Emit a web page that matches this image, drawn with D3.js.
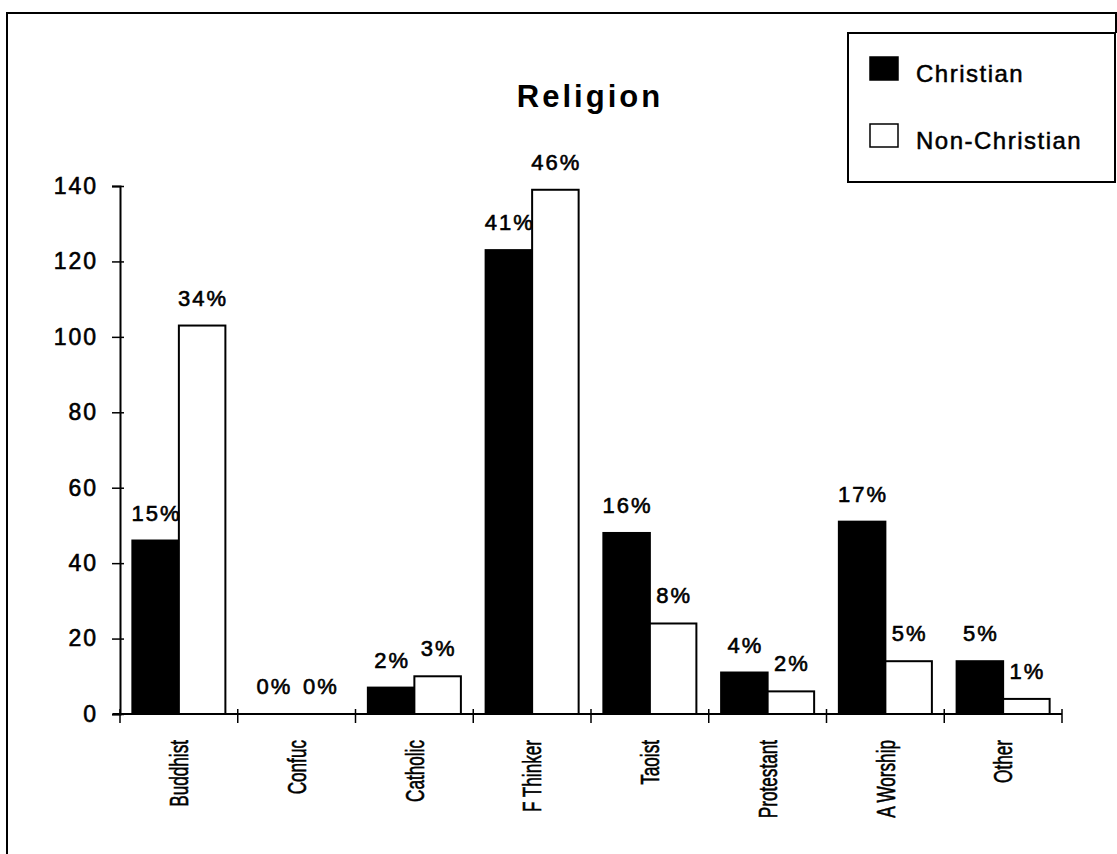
<!DOCTYPE html>
<html>
<head>
<meta charset="utf-8">
<script src="https://cdn.jsdelivr.net/npm/d3@7"></script>
<style>
  body { margin: 0; background: #fff; }
  svg { display: block; }
  text { font-family: "Liberation Sans", Arial, sans-serif; fill: #000; }
</style>
</head>
<body>
<div id="chart"></div>
<script>
// Data
const categories = ['Buddhist', 'Confuc', 'Catholic', 'F Thinker', 'Taoist', 'Protestant', 'A Worship', 'Other'];
const series = ['Christian', 'Non-Christian'];
const christian = [46, 0, 7, 123, 48, 11, 51, 14];
const nonChristian = [103, 0, 10, 139, 24, 6, 14, 4];
const christianPct = ['15%', '0%', '2%', '41%', '16%', '4%', '17%', '5%'];
const nonChristianPct = ['34%', '0%', '3%', '46%', '8%', '2%', '5%', '1%'];
const yTicks = [0, 20, 40, 60, 80, 100, 120, 140];

const W = 1117, H = 854;

const svg = d3.select('#chart')
  .append('svg')
  .attr('width', W)
  .attr('height', H);

// Outer frame (top and left edges, short right piece by the legend)
svg.append('path')
  .attr('d', 'M7,854 V13 H1116 V33')
  .attr('fill', 'none')
  .attr('stroke', '#000')
  .attr('stroke-width', 2);

// Scales
const x0 = d3.scaleBand()
  .domain(categories)
  .range([120, 1062])
  .paddingInner(0.21)
  .paddingOuter(0.105);

const x1 = d3.scaleBand()
  .domain(series)
  .range([0, x0.bandwidth()]);

const y = d3.scaleLinear()
  .domain([0, 140])
  .range([714, 186]);

// Y axis
const yAxis = svg.append('g')
  .attr('transform', 'translate(120,0)')
  .call(d3.axisLeft(y).tickValues(yTicks).tickSize(8).tickPadding(14));
yAxis.select('.domain').attr('stroke', '#000').attr('stroke-width', 2);
yAxis.selectAll('.tick line').attr('x1', 4).attr('stroke-width', 1.5);
yAxis.selectAll('.tick text')
  .attr('font-size', 23)
  .attr('letter-spacing', 2)
  .attr('stroke', '#000')
  .attr('stroke-width', 0.6)
  .style('font-family', '"Liberation Sans", Arial, sans-serif');

// X axis: baseline and ticks at category boundaries
const step = x0.step();
const bounds = d3.range(categories.length + 1).map(i => x0.range()[0] + i * step);
svg.append('line')
  .attr('x1', 113).attr('x2', bounds[bounds.length - 1])
  .attr('y1', y(0)).attr('y2', y(0))
  .attr('stroke', '#000').attr('stroke-width', 2);
svg.selectAll('.xtick')
  .data(bounds)
  .join('line')
  .attr('class', 'xtick')
  .attr('x1', d => d).attr('x2', d => d)
  .attr('y1', y(0) - 5).attr('y2', y(0) + 9)
  .attr('stroke', '#000').attr('stroke-width', 1.5);

// Category labels, rotated and narrowed
svg.selectAll('.cat')
  .data(categories)
  .join('text')
  .attr('class', 'cat')
  .attr('transform', d => `translate(${x0(d) + x0.bandwidth() / 2},740) rotate(-90) scale(0.66,1)`)
  .attr('text-anchor', 'end')
  .attr('dy', '0.36em')
  .attr('font-size', 26)
  .attr('stroke', '#000')
  .attr('stroke-width', 0.6)
  .text(d => d);

// Bars
const rows = categories.map((c, i) => ({
  cat: c,
  vals: [
    { key: 'Christian', value: christian[i], label: christianPct[i] },
    { key: 'Non-Christian', value: nonChristian[i], label: nonChristianPct[i] }
  ]
}));

const groups = svg.selectAll('.grp')
  .data(rows)
  .join('g')
  .attr('class', 'grp')
  .attr('transform', d => `translate(${x0(d.cat)},0)`);

groups.selectAll('rect')
  .data(d => d.vals)
  .join('rect')
  .attr('x', d => x1(d.key))
  .attr('y', d => y(d.value))
  .attr('width', x1.bandwidth())
  .attr('height', d => y(0) - y(d.value))
  .attr('fill', d => d.key === 'Christian' ? '#000' : '#fff')
  .attr('stroke', '#000')
  .attr('stroke-width', 2);

groups.selectAll('.lbl')
  .data(d => d.vals)
  .join('text')
  .attr('class', 'lbl')
  .attr('x', d => x1(d.key) + x1.bandwidth() / 2 + 1)
  .attr('y', d => y(d.value) - 20)
  .attr('text-anchor', 'middle')
  .attr('font-size', 22)
  .attr('letter-spacing', 2)
  .attr('stroke', '#000')
  .attr('stroke-width', 0.6)
  .text(d => d.label);

// Title
svg.append('text')
  .attr('x', 590)
  .attr('y', 107)
  .attr('text-anchor', 'middle')
  .attr('font-size', 31)
  .attr('font-weight', 'bold')
  .attr('letter-spacing', 3)
  .text('Religion');

// Legend
const legend = svg.append('g');
legend.append('rect')
  .attr('x', 848).attr('y', 33)
  .attr('width', 267).attr('height', 149)
  .attr('fill', '#fff')
  .attr('stroke', '#000')
  .attr('stroke-width', 2);

const legendY = d3.scalePoint().domain(series).range([73, 140]);
legend.selectAll('.sw')
  .data(series)
  .join('rect')
  .attr('class', 'sw')
  .attr('x', 870)
  .attr('y', d => legendY(d) - 16)
  .attr('width', 28)
  .attr('height', 23)
  .attr('fill', (d, i) => i === 0 ? '#000' : '#fff')
  .attr('stroke', '#000')
  .attr('stroke-width', 1.5);
legend.selectAll('.lt')
  .data(series)
  .join('text')
  .attr('class', 'lt')
  .attr('x', 916)
  .attr('y', d => legendY(d))
  .attr('dy', '0.36em')
  .attr('font-size', 24)
  .attr('letter-spacing', 1.5)
  .attr('stroke', '#000')
  .attr('stroke-width', 0.5)
  .text(d => d);
</script>
</body>
</html>
